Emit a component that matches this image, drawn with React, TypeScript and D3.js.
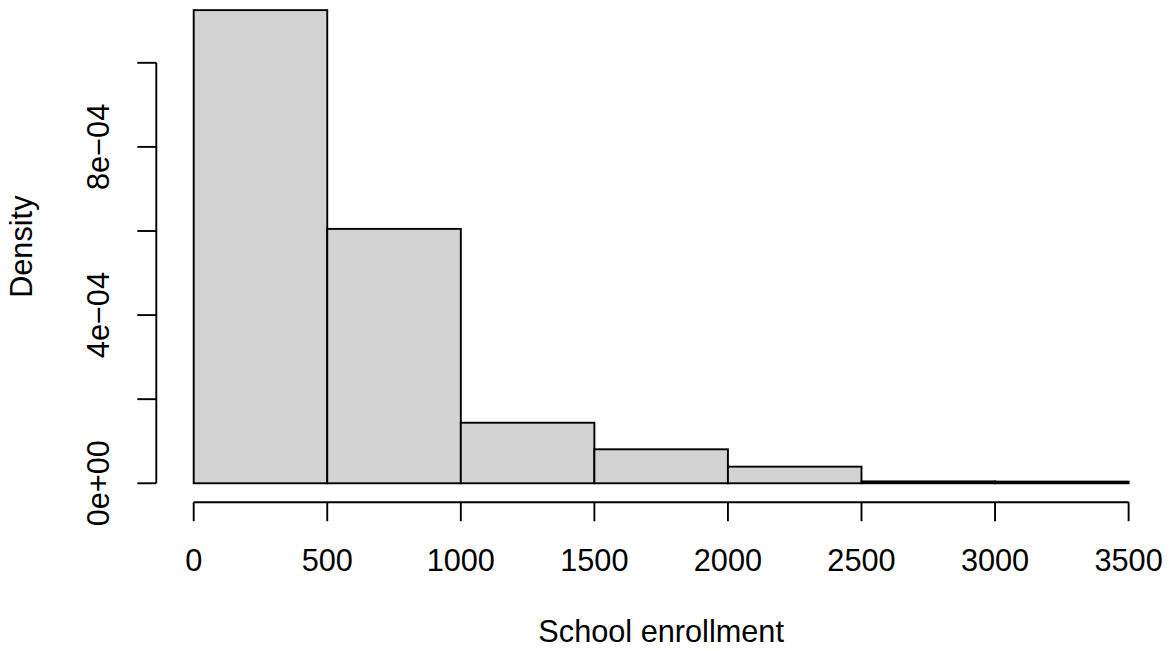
import React from "react";
import * as d3 from "d3";

// Histogram bins of school enrollment (bin edges) and their densities
const binStarts = [0, 500, 1000, 1500, 2000, 2500, 3000];
const binWidth = 500;
const densities = [0.0011253, 0.000605, 0.000144, 0.0000808, 0.0000395, 0.0000045, 0.000004];

const xTicks = [0, 500, 1000, 1500, 2000, 2500, 3000, 3500];
const yTicks = [0, 0.0002, 0.0004, 0.0006, 0.0008, 0.001];
const yTickLabels = ["0e+00", "", "4e\u221204", "", "8e\u221204", ""];

const W = 1171;
const H = 651;
const FONT = "'Liberation Sans', Arial, Helvetica, sans-serif";
const FS = 30.7;
const LW = 1.9;

export default function App() {
  // plot region spans the data range extended by 4% on each side
  const xDomain: [number, number] = [0, 3500];
  const xPad = (xDomain[1] - xDomain[0]) * 0.04;
  const x = d3.scaleLinear().domain([xDomain[0] - xPad, xDomain[1] + xPad]).range([156.3, 1166]);

  const yMax = d3.max(densities) as number;
  const yPad = yMax * 0.04;
  const y = d3.scaleLinear().domain([-yPad, yMax + yPad]).range([502.2, -8.8]);

  const axisY = 502.2;
  const axisX = 156.3;
  const tickLen = 19;

  return (
    <svg
      width={W}
      height={H}
      style={{ position: "absolute", left: 0, top: 0, background: "#fff" }}
      fontFamily={FONT}
    >
      {/* bars */}
      {binStarts.map((b, i) => (
        <rect
          key={b}
          x={x(b)}
          y={y(densities[i])}
          width={x(b + binWidth) - x(b)}
          height={y(0) - y(densities[i])}
          fill="#D3D3D3"
          stroke="#000"
          strokeWidth={LW}
        />
      ))}

      {/* x axis */}
      <line x1={x(xTicks[0])} x2={x(xTicks[xTicks.length - 1])} y1={axisY} y2={axisY} stroke="#000" strokeWidth={LW} />
      {xTicks.map((t) => (
        <g key={t}>
          <line x1={x(t)} x2={x(t)} y1={axisY} y2={axisY + tickLen} stroke="#000" strokeWidth={LW} />
          <text x={x(t)} y={571} textAnchor="middle" fontSize={FS} fill="#000">
            {t}
          </text>
        </g>
      ))}

      {/* y axis */}
      <line x1={axisX} x2={axisX} y1={y(yTicks[0])} y2={y(yTicks[yTicks.length - 1])} stroke="#000" strokeWidth={LW} />
      {yTicks.map((t, i) => (
        <g key={t}>
          <line x1={axisX - tickLen} x2={axisX} y1={y(t)} y2={y(t)} stroke="#000" strokeWidth={LW} />
          {yTickLabels[i] && (
            <text
              transform={`translate(109,${y(t)}) rotate(-90)`}
              textAnchor="middle"
              fontSize={FS}
              fill="#000"
            >
              {yTickLabels[i]}
            </text>
          )}
        </g>
      ))}

      {/* axis titles */}
      <text x={(x.range()[0] + x.range()[1]) / 2} y={642} textAnchor="middle" fontSize={FS} fill="#000">
        School enrollment
      </text>
      <text
        transform={`translate(32,${(y.range()[0] + y.range()[1]) / 2}) rotate(-90)`}
        textAnchor="middle"
        fontSize={FS}
        fill="#000"
      >
        Density
      </text>
    </svg>
  );
}
